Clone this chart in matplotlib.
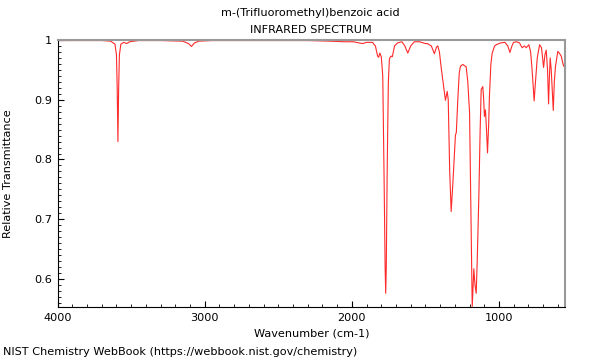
import numpy as np
import matplotlib
matplotlib.use("Agg")
import matplotlib.pyplot as plt
from matplotlib.ticker import MultipleLocator, FuncFormatter

# espectro (numero de onda em cm-1, transmitancia relativa)
wavenumber = [4000, 3800, 3700, 3640, 3610, 3600, 3595, 3590, 3585, 3580, 3570, 3550,
              3530, 3510, 3450, 3300, 3150, 3110, 3090, 3070, 3040, 2950, 2800, 2600,
              2300, 2150, 2050, 1990, 1950, 1926, 1900, 1860, 1840, 1825, 1818, 1810,
              1800, 1790, 1780, 1774, 1770, 1766, 1760, 1752, 1745, 1735, 1725, 1710,
              1690, 1660, 1640, 1620, 1600, 1575, 1540, 1500, 1487, 1460, 1439, 1425,
              1416, 1405, 1393, 1375, 1364, 1352, 1345, 1335, 1325, 1314, 1305, 1296,
              1290, 1280, 1270, 1262, 1246, 1235, 1223, 1212, 1200, 1190, 1182, 1176,
              1171, 1163, 1155, 1148, 1137, 1128, 1121, 1110, 1104, 1099, 1092, 1085,
              1078, 1070, 1065, 1055, 1046, 1030, 1019, 990, 960, 940, 926, 912,
              901, 880, 860, 850, 842, 827, 815, 797, 785, 775, 761, 755,
              740, 724, 711, 697, 688, 679, 670, 663, 657, 652, 645, 631,
              624, 616, 600, 590, 577, 565, 560, 552]
transmittance = [0.999, 0.999, 0.999, 0.998, 0.993, 0.975, 0.92, 0.830, 0.92, 0.975, 0.993, 0.996,
                 0.994, 0.997, 0.999, 0.999, 0.998, 0.994, 0.989, 0.995, 0.998, 0.999, 0.999, 0.999,
                 0.999, 0.998, 0.997, 0.997, 0.995, 0.994, 0.996, 0.996, 0.990, 0.973, 0.971, 0.978,
                 0.972, 0.940, 0.750, 0.620, 0.576, 0.620, 0.780, 0.930, 0.968, 0.973, 0.972, 0.990,
                 0.995, 0.997, 0.990, 0.978, 0.990, 0.997, 0.997, 0.994, 0.994, 0.990, 0.977, 0.988,
                 0.990, 0.980, 0.954, 0.920, 0.899, 0.914, 0.900, 0.780, 0.713, 0.758, 0.800, 0.841,
                 0.845, 0.900, 0.945, 0.956, 0.959, 0.957, 0.955, 0.930, 0.878, 0.700, 0.554, 0.590,
                 0.617, 0.590, 0.576, 0.630, 0.738, 0.850, 0.917, 0.922, 0.900, 0.872, 0.883, 0.850,
                 0.811, 0.860, 0.906, 0.960, 0.978, 0.990, 0.992, 0.995, 0.996, 0.990, 0.979, 0.990,
                 0.996, 0.997, 0.995, 0.990, 0.987, 0.990, 0.987, 0.992, 0.980, 0.950, 0.898, 0.920,
                 0.970, 0.992, 0.987, 0.954, 0.975, 0.983, 0.950, 0.893, 0.940, 0.970, 0.950, 0.882,
                 0.930, 0.956, 0.981, 0.978, 0.973, 0.960, 0.956, 0.955]

FS = 8.1

fig = plt.figure(figsize=(6, 3.6), dpi=100)
ax = fig.add_axes([0.096, 0.147, 0.846, 0.742])

ax.plot(wavenumber, transmittance, color='#ff2a2a', lw=0.8)

ax.set_xlim(4000, 550)
ax.set_ylim(0.553, 1.0)

ax.xaxis.set_major_locator(MultipleLocator(1000))
ax.xaxis.set_minor_locator(MultipleLocator(100))
ax.yaxis.set_major_locator(MultipleLocator(0.1))
ax.yaxis.set_minor_locator(MultipleLocator(0.01))
ax.yaxis.set_major_formatter(FuncFormatter(lambda v, p: '%g' % round(v, 2)))

ax.tick_params(which='both', direction='in', labelsize=FS, top=False, right=False)
ax.tick_params(which='major', length=4, width=0.8, pad=4)
ax.tick_params(which='minor', length=2, width=0.6)

for s in ['top', 'right']:
    ax.spines[s].set_color('#999999')
    ax.spines[s].set_linewidth(1.5)
for s in ['left', 'bottom']:
    ax.spines[s].set_color('black')
    ax.spines[s].set_linewidth(0.8)

ax.set_xlabel('Wavenumber (cm-1)', fontsize=FS, labelpad=4)
ax.set_ylabel('Relative Transmittance', fontsize=FS, labelpad=15)

fig.text(0.518, 0.963, 'm-(Trifluoromethyl)benzoic acid', ha='center', va='center', fontsize=FS)
fig.text(0.518, 0.916, 'INFRARED SPECTRUM', ha='center', va='center', fontsize=FS)
fig.text(0.005, 0.022, 'NIST Chemistry WebBook (https://webbook.nist.gov/chemistry)',
         ha='left', va='center', fontsize=FS)

fig.savefig('out.png', dpi=100)
